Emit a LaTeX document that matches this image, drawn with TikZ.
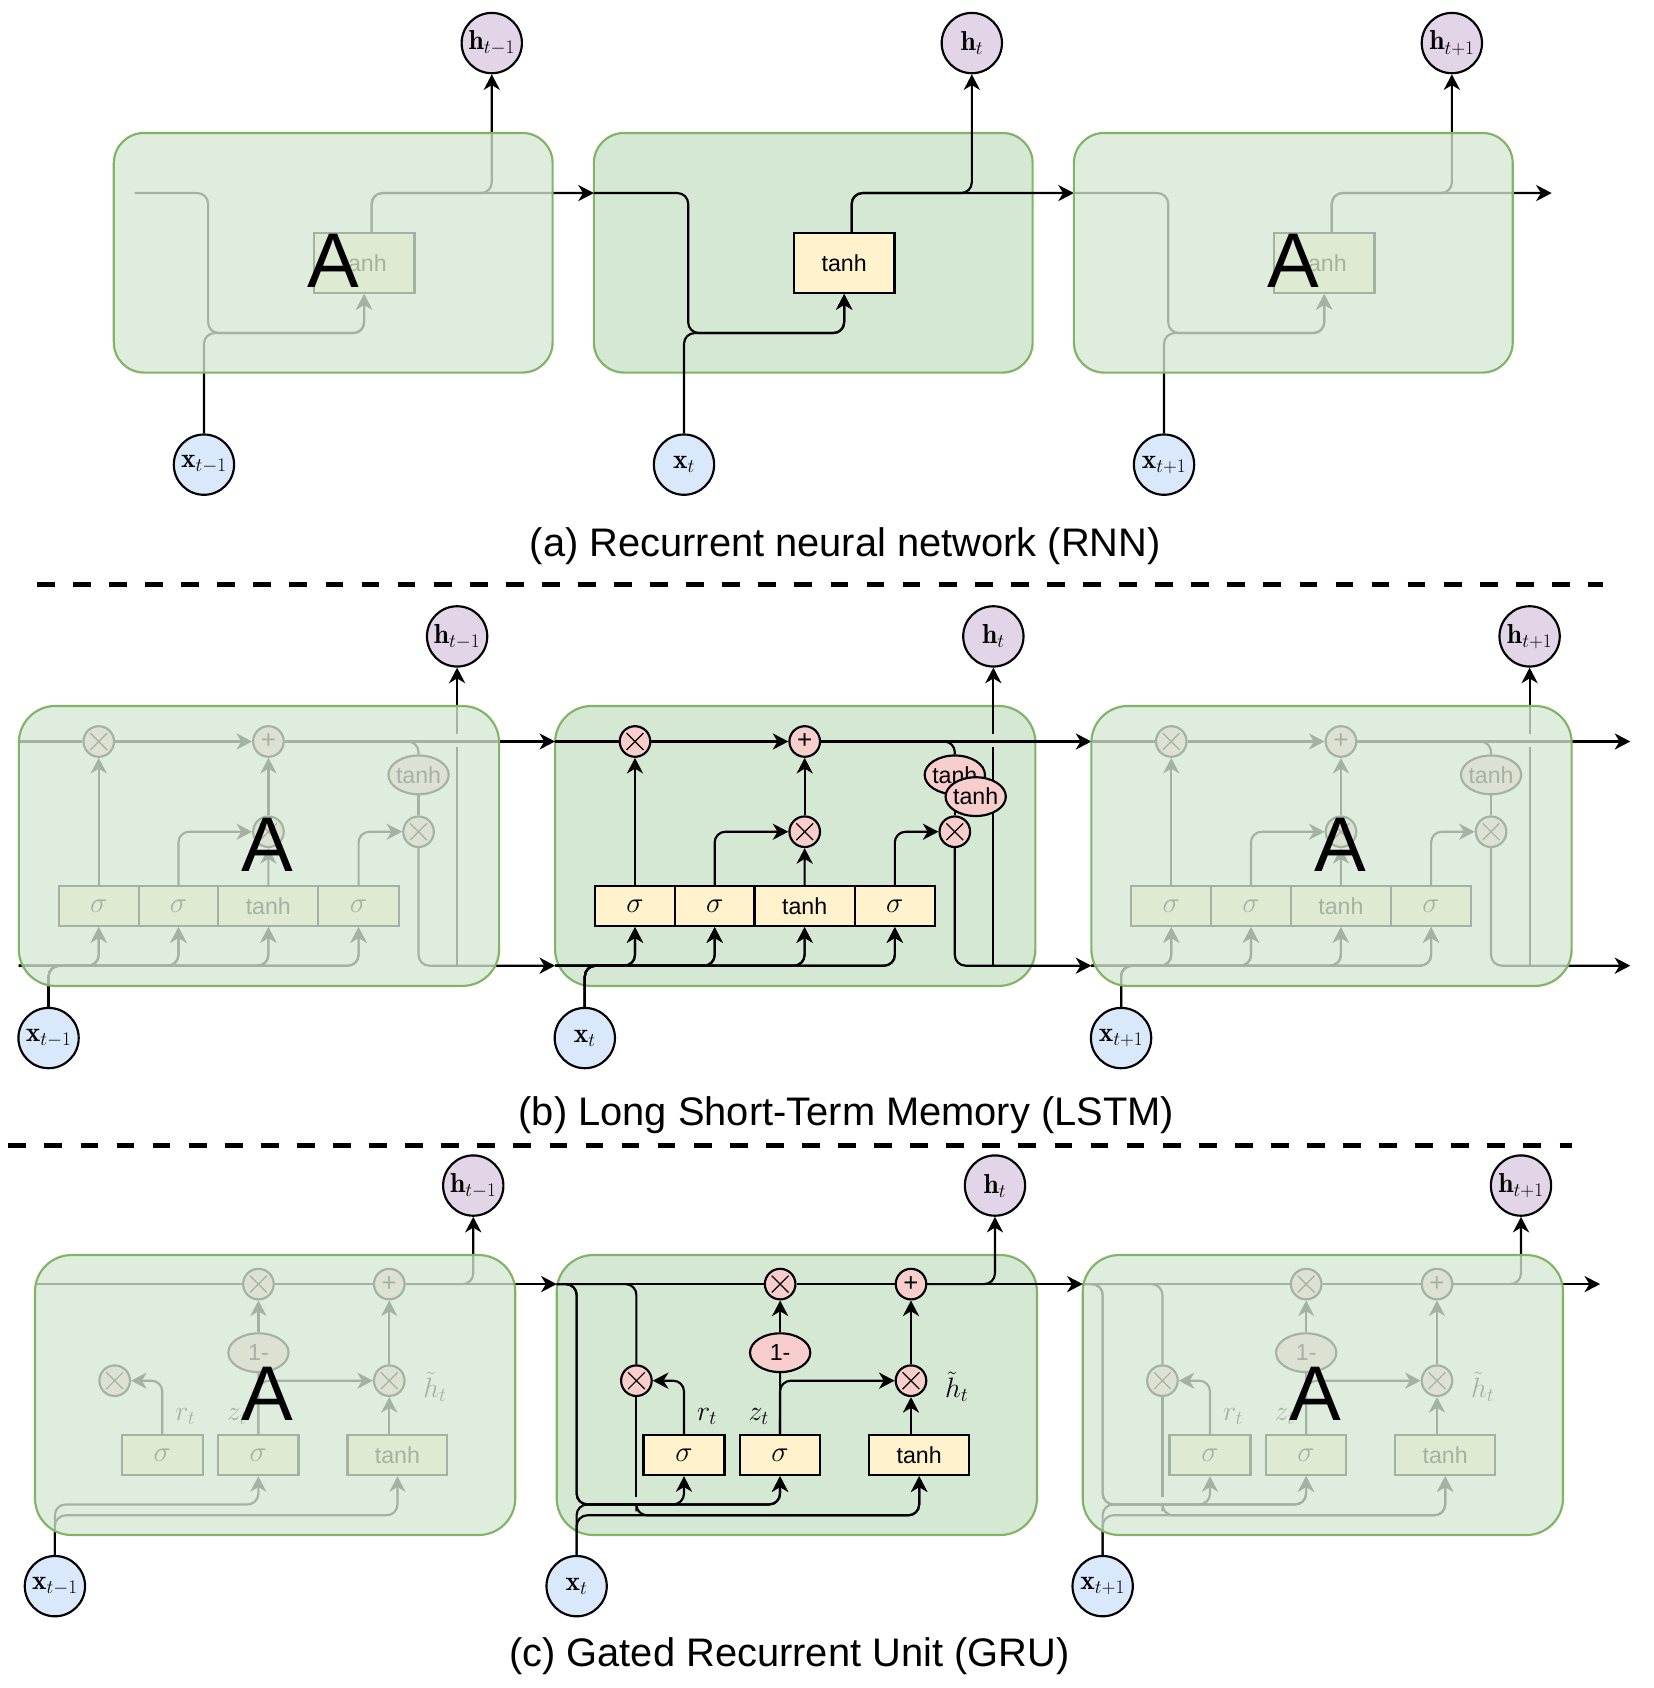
\RequirePackage{fix-cm}
\documentclass[tikz,border=0pt]{standalone}
\usepackage{fontspec}
\setsansfont{Liberation Sans}
\usetikzlibrary{arrows.meta,shapes.geometric}
\definecolor{cellG}{HTML}{D5E8D4}
\definecolor{cellS}{HTML}{82B366}
\definecolor{yel}{HTML}{FFF2CC}
\definecolor{pnk}{HTML}{F8CECC}
\definecolor{purp}{HTML}{E1D5E7}
\definecolor{blu}{HTML}{DAE8FC}
\tikzset{
  wire/.style={line width=2pt, rounded corners=10pt},
  warr/.style={wire, -{Stealth[length=14.5pt,width=15pt,inset=4.5pt]}},
  cellbg/.style={draw=cellS, fill=cellG, line width=2pt, inner sep=0pt},
  veil/.style={draw=cellS, fill=cellG, fill opacity=0.77, line width=2pt, inner sep=0pt},
  ybox/.style={draw, line width=2pt, fill=yel, inner sep=0pt, font=\sffamily\fontsize{21.5}{24}\selectfont},
  sgm/.style={font=\fontsize{27}{30}\selectfont},
  opc/.style={circle, draw, line width=2pt, fill=pnk, minimum size=28.4pt, inner sep=0pt},
  mulc/.style={opc, path picture={
     \draw[line width=1.1pt] ([shift={(-7.8pt,-7.8pt)}]path picture bounding box.center) -- ([shift={(7.8pt,7.8pt)}]path picture bounding box.center)
       ([shift={(-7.8pt,7.8pt)}]path picture bounding box.center) -- ([shift={(7.8pt,-7.8pt)}]path picture bounding box.center);}},
  plc/.style={opc, font=\sffamily\fontsize{24}{26}\selectfont},
  opel/.style={ellipse, draw, line width=2pt, fill=pnk, minimum width=56pt, minimum height=36pt, inner sep=0pt, font=\sffamily\fontsize{21.5}{24}\selectfont},
  hc/.style={circle, draw, line width=2pt, fill=purp, minimum size=56pt, inner sep=0pt, font=\fontsize{25.5}{29}\selectfont},
  xc/.style={hc, fill=blu},
  bigA/.style={font=\sffamily\fontsize{72}{80}\selectfont, anchor=base, inner sep=0pt},
  capt/.style={font=\sffamily\fontsize{37}{40}\selectfont, anchor=base, inner sep=0pt},
  lab/.style={font=\fontsize{26}{30}\selectfont, inner sep=0pt},
  dashsep/.style={line width=4.7pt, dash pattern=on 16.5pt off 17pt},
}
% ---------------- RNN cell ----------------
\newcommand\rnncell[5]{%
\begin{scope}[shift={(#2,123.5)}, name prefix=#1-]
  \node[ybox, minimum width=93.5pt, minimum height=55.7pt] (th) at (232.45,120.75) {tanh};
  \node[hc] (h) at (351,-83.5) {\makebox[0pt]{$\mathbf{h}_{#5}$}};
  \node[xc] (x) at (83.7,308) {\makebox[0pt]{$\mathbf{x}_{#5}$}};
  \coordinate (hin) at (#3,55.8);
  \coordinate (out) at (#4,55.8);
  \draw[warr] (hin) -| (87.6,185.8) -| (th.south);
  \draw[warr] (x.north) -- (83.7,185.8) -| (th.south);
  \draw[warr] ([xshift=7pt]th.north) |- (out);
  \draw[warr] ([xshift=7pt]th.north) |- (351,55.8) -- (h.south);
\end{scope}}
% ---------------- LSTM cell ----------------
\newcommand\lstmcell[4]{%
\begin{scope}[shift={(#2,655.6)}, name prefix=#1-]
  \node[mulc] (xf) at (74.2,33) {};
  \node[plc] (pl) at (231.8,33) {+};
  \node[mulc] (xi) at (231.8,116.8) {};
  \node[mulc] (xo) at (371.2,116.8) {};
  \node[opel] (th1) at (371.2,64) {\makebox[0pt]{tanh}};
  \node[ybox, sgm, minimum width=74pt, minimum height=37.2pt] (g1) at (74.2,185.8) {$\sigma$};
  \node[ybox, sgm, minimum width=74pt, minimum height=37.2pt] (g2) at (148.2,185.8) {$\sigma$};
  \node[ybox, minimum width=93pt, minimum height=37.2pt] (g3) at (231.7,185.8) {tanh};
  \node[ybox, sgm, minimum width=74.6pt, minimum height=37.2pt] (g4) at (315.5,185.8) {$\sigma$};
  \node[hc] (h) at (407,-64.6) {\makebox[0pt]{$\mathbf{h}_{#4}$}};
  \node[xc] (x) at (27.6,308.4) {\makebox[0pt]{$\mathbf{x}_{#4}$}};
  \coordinate (tin) at (0,33);
  \coordinate (bin) at (0,241.2);
  \coordinate (o1) at (#3,33);
  \coordinate (o2) at (#3,241.2);
  \coordinate (hb) at (407,241.2);
  \coordinate (hg1) at (407,38);
  \coordinate (hg2) at (407,26);
  \draw[wire] (tin) -- (xf.west);
  \draw[warr] (xf.east) -- (pl.west);
  \draw[warr] (pl.east) -- (o1);
  \draw[wire] (pl.east) -| (th1.north);
  \draw[wire] (th1.south) -- (xo.north);
  \draw[warr] (xo.south) |- (o2);
  \draw[wire] (hb) -- (hg1);
  \draw[warr] (hg2) -- (h.south);
  \foreach \g in {g1,g2,g3,g4}{
    \draw[warr] (bin) -| (\g.south);
    \draw[warr] (x.north) -- (27.6,241.2) -| (\g.south);
  }
  \draw[warr] (g1.north) -- (xf.south);
  \draw[warr] (g2.north) |- (xi.west);
  \draw[warr] (g3.north) -- (xi.south);
  \draw[warr] (xi.north) -- (pl.south);
  \draw[warr] (g4.north) |- (xo.west);
\end{scope}}
% ---------------- GRU cell ----------------
\newcommand\grucell[5]{%
\begin{scope}[shift={(#2,1165.5)}, name prefix=#1-]
  \node[mulc] (xz) at (207.5,27) {};
  \node[plc] (pl) at (329,27) {+};
  \node[mulc] (xr) at (74,116.7) {};
  \node[mulc] (xh) at (329,116.7) {};
  \node[opel] (om) at (207.5,90.7) {\makebox[0pt]{1-}};
  \node[ybox, sgm, minimum width=75.2pt, minimum height=37.2pt] (gr) at (118.2,185.8) {$\sigma$};
  \node[ybox, sgm, minimum width=74.6pt, minimum height=37.2pt] (gz) at (207.4,185.8) {$\sigma$};
  \node[ybox, minimum width=92.8pt, minimum height=37.2pt] (gt) at (336.6,185.8) {tanh};
  \node[lab] (rl) at (139.6,150) {$r_t$};
  \node[lab] (zl) at (187.6,150) {$z_t$};
  \node[lab] (hl) at (371.4,122.3) {$\tilde{h}_t$};
  \node[hc] (h) at (407,-64.5) {\makebox[0pt]{$\mathbf{h}_{#4}$}};
  \node[xc] (x) at (18.5,307.5) {\makebox[0pt]{$\mathbf{x}_{#4}$}};
  \coordinate (tin) at (0,27);
  \coordinate (o1) at (#3,27);
  \draw[wire] (tin) -- (xz.west);
  \draw[wire] (xz.east) -- (pl.west);
  \draw[warr] (pl.east) -- (o1);
  \draw[warr] (pl.east) -| (h.south);
  \ifnum#5=1
    \draw[warr] (tin) -| (18.5,231.6) -| (gr.south);
    \draw[warr] (tin) -| (18.5,231.6) -| (gz.south);
    \draw[wire] (tin) -| (xr.north);
    \coordinate (rg1) at (74,225);
    \coordinate (rg2) at (74,238);
    \draw[wire] (xr.south) -- (rg1);
    \draw[warr] (rg2) -- (74,241.7) -| (gt.south);
  \fi
  \draw[warr] (x.north) -- (18.5,231.6) -| (gz.south);
  \draw[warr] (x.north) -- (18.5,241.7) -| (gt.south);
  \draw[warr] (gr.north) |- (xr.east);
  \draw[wire] (gz.north) -- (om.south);
  \draw[warr] (gz.north) |- (xh.west);
  \draw[warr] (om.north) -- (xz.south);
  \draw[warr] ([xshift=-7.6pt]gt.north) -- (xh.south);
  \draw[warr] (xh.north) -- (pl.south);
\end{scope}}
\begin{document}
\begin{tikzpicture}[x=1pt,y=-1pt]
\useasboundingbox (0,0) rectangle (1536,1567.6);
% middle cell backgrounds
\node[cellbg, minimum width=407.5pt, minimum height=222.5pt, rounded corners=28pt] (R2) at (755.25,234.75) {};
\node[cellbg, minimum width=446pt, minimum height=260pt, rounded corners=34pt] (L2) at (738.5,785.6) {};
\node[cellbg, minimum width=446pt, minimum height=260pt, rounded corners=34pt] (G2) at (740,1295.5) {};
% RNN
\rnncell{Ra}{105.7}{19.3}{445.8}{t-1}
\rnncell{Rb}{551.5}{0}{445.8}{t}
\rnncell{Rc}{997.3}{0}{443.7}{t+1}
% LSTM
\lstmcell{La}{17.5}{498}{t-1}
\lstmcell{Lb}{515.5}{498}{t}
\lstmcell{Lc}{1013.5}{500.5}{t+1}
\node[opel] (Lb-th2) at (906.1,739.8) {\makebox[0pt]{tanh}};
% GRU
\grucell{Ga}{32.5}{484.5}{t-1}{0}
\grucell{Gb}{517}{488.5}{t}{1}
\grucell{Gc}{1005.5}{480.5}{t+1}{1}
% veils over side cells
\node[veil, minimum width=407.5pt, minimum height=222.5pt, rounded corners=28pt] (R1) at (309.45,234.75) {};
\node[veil, minimum width=407.5pt, minimum height=222.5pt, rounded corners=28pt] (R3) at (1201.05,234.75) {};
\node[veil, minimum width=446pt, minimum height=260pt, rounded corners=34pt] (L1) at (240.5,785.6) {};
\node[veil, minimum width=446pt, minimum height=260pt, rounded corners=34pt] (L3) at (1236.5,785.6) {};
\node[veil, minimum width=446pt, minimum height=260pt, rounded corners=34pt] (G1) at (255.5,1295.5) {};
\node[veil, minimum width=446pt, minimum height=260pt, rounded corners=34pt] (G3) at (1228.5,1295.5) {};
% A labels
\node[bigA] (A1) at (309.7,267.4) {A};
\node[bigA] (A2) at (1201.3,267.4) {A};
\node[bigA] (A3) at (248.5,809.5) {A};
\node[bigA] (A4) at (1244.5,809.5) {A};
\node[bigA] (A5) at (248.5,1318.8) {A};
\node[bigA] (A6) at (1221.5,1318.8) {A};
% separators
\coordinate (d1a) at (34.3,543);
\coordinate (d1b) at (1489,543);
\coordinate (d2a) at (7.8,1064);
\coordinate (d2b) at (1460,1064);
\draw[dashsep] (d1a) -- (d1b);
\draw[dashsep] (d2a) -- (d2b);
% captions
\node[capt] (ca) at (785,517) {(a) Recurrent neural network (RNN)};
\node[capt] (cb) at (786,1045) {(b) Long Short-Term Memory (LSTM)};
\node[capt] (cc) at (733,1548) {(c) Gated Recurrent Unit (GRU)};
\end{tikzpicture}
\end{document}
